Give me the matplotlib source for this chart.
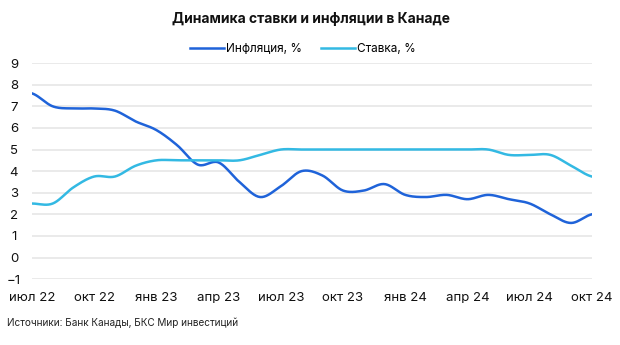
import numpy as np
import matplotlib

matplotlib.use("Agg")
import matplotlib.pyplot as plt

plt.rcParams["font.family"] = ["Inter", "DejaVu Sans"]

months = ["июл 22", "авг 22", "сен 22", "окт 22", "ноя 22", "дек 22",
          "янв 23", "фев 23", "мар 23", "апр 23", "май 23", "июн 23",
          "июл 23", "авг 23", "сен 23", "окт 23", "ноя 23", "дек 23",
          "янв 24", "фев 24", "мар 24", "апр 24", "май 24", "июн 24",
          "июл 24", "авг 24", "сен 24", "окт 24"]
inflation = [7.6, 7.0, 6.9, 6.9, 6.8, 6.3, 5.9, 5.2, 4.3, 4.4, 3.5, 2.8,
             3.3, 4.0, 3.8, 3.1, 3.1, 3.4, 2.9, 2.8, 2.9, 2.7, 2.9, 2.7,
             2.5, 2.0, 1.6, 2.0]
rate = [2.5, 2.5, 3.25, 3.75, 3.75, 4.25, 4.5, 4.5, 4.5, 4.5, 4.5, 4.75,
        5.0, 5.0, 5.0, 5.0, 5.0, 5.0, 5.0, 5.0, 5.0, 5.0, 5.0, 4.75,
        4.75, 4.75, 4.25, 3.75]


def smooth(y, n=20):
    # Catmull-Rom, like Excel's smoothed line
    y = np.asarray(y, dtype=float)
    p = np.concatenate([[y[0]], y, [y[-1]]])
    xs, ys = [], []
    t = np.linspace(0, 1, n, endpoint=False)
    for i in range(len(y) - 1):
        p0, p1, p2, p3 = p[i], p[i + 1], p[i + 2], p[i + 3]
        seg = 0.5 * (2 * p1 + (-p0 + p2) * t + (2 * p0 - 5 * p1 + 4 * p2 - p3) * t ** 2
                     + (-p0 + 3 * p1 - 3 * p2 + p3) * t ** 3)
        xs.extend(i + t)
        ys.extend(seg)
    xs.append(len(y) - 1)
    ys.append(y[-1])
    return np.array(xs), np.array(ys)


fig = plt.figure(figsize=(6.2, 3.45), dpi=100)
ax = fig.add_axes([0.0516, 0.191, 0.903, 0.626])

x1, y1 = smooth(inflation)
x2, y2 = smooth(rate)
ax.plot(x1, y1, color="#1F63D9", lw=1.8, label="Инфляция, %", zorder=3)
ax.plot(x2, y2, color="#33B9E3", lw=1.8, label="Ставка, %", zorder=3)

ax.set_xlim(0, len(months) - 1)
ax.set_ylim(-1, 9)
ax.set_yticks(range(-1, 10))
ax.set_xticks(range(0, len(months), 3))
ax.set_xticklabels(months[::3])
ax.grid(axis="y", color="#e6e6e6", lw=1.2)
ax.grid(axis="x", visible=False)
for s in ax.spines.values():
    s.set_visible(False)
ax.tick_params(length=0, labelsize=9.5, colors="#111111")
ax.tick_params(axis="x", pad=9)
ax.tick_params(axis="y", pad=13)
for lab in ax.get_yticklabels():
    lab.set_horizontalalignment("center")

fig.text(0.502, 0.944, "Динамика ставки и инфляции в Канаде", ha="center", va="center",
         fontsize=10, fontweight="bold", color="#111111")
fig.legend(loc="center", bbox_to_anchor=(0.488, 0.858), ncol=2, frameon=False,
           fontsize=8.5, handlelength=2.9, handletextpad=0.15, columnspacing=1.6)
fig.text(0.011, 0.064, "Источники: Банк Канады, БКС Мир инвестиций", ha="left", va="center",
         fontsize=7.2, color="#222222")

fig.savefig("out.png", dpi=100)
plt.close(fig)
